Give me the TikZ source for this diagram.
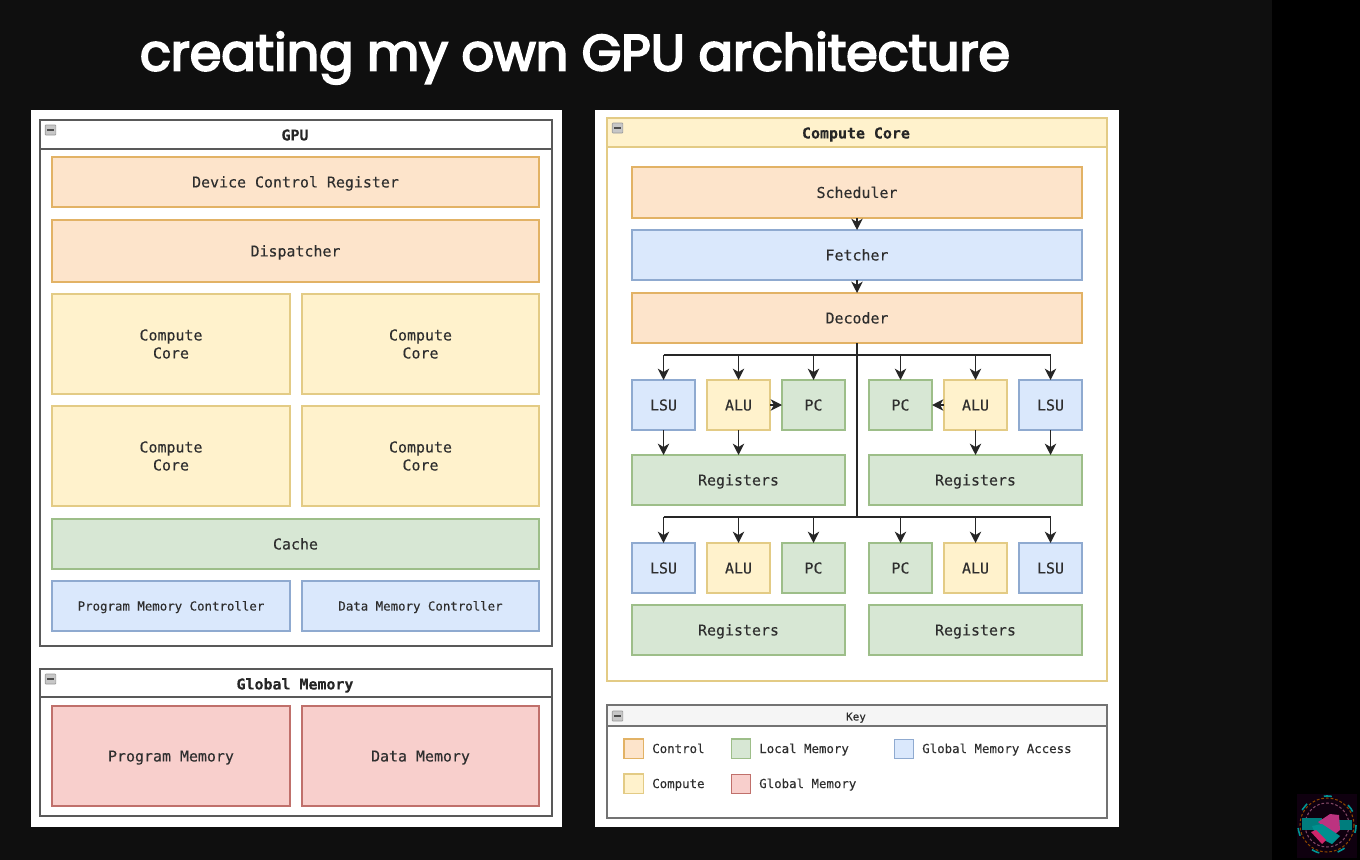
\documentclass[tikz,border=0pt]{standalone}
\usepackage{fontspec}
\setmainfont[FakeBold=0.25]{DejaVu Sans Mono}
\newfontfamily\titlefont[FakeBold=4]{Poppins}
\usetikzlibrary{arrows.meta}
\definecolor{slide}{HTML}{0F0F0F}
\definecolor{ink}{HTML}{2E2E2E}
\definecolor{ctlF}{HTML}{FDE4CB}\definecolor{ctlD}{HTML}{E2B265}
\definecolor{cmpF}{HTML}{FFF2CC}\definecolor{cmpD}{HTML}{E3CB85}
\definecolor{locF}{HTML}{D7E7D4}\definecolor{locD}{HTML}{9DBE89}
\definecolor{gloF}{HTML}{DAE8FC}\definecolor{gloD}{HTML}{8FAAD0}
\definecolor{memF}{HTML}{F8CFCC}\definecolor{memD}{HTML}{C0706B}
% keeps the capitals of every line group vertically centred in its box
\newcommand{\capcentre}[1]{\rule{0pt}{1.07em}#1\rule[-.34em]{0pt}{.34em}}
\tikzset{
  x=0.75pt,y=-0.75pt,
  base/.style={draw,line width=0.95pt,inner sep=0pt,outer sep=0pt,anchor=north west,align=center,text=ink,font=\fontsize{11.2pt}{13.5pt}\selectfont},
  ctl/.style={base,fill=ctlF,draw=ctlD},
  cmp/.style={base,fill=cmpF,draw=cmpD},
  loc/.style={base,fill=locF,draw=locD},
  glo/.style={base,fill=gloF,draw=gloD},
  mem/.style={base,fill=memF,draw=memD},
  panel/.style={base,fill=white,draw=none},
  lane/.style={base,fill=white,draw=black!65},
  smalltext/.style={font=\fontsize{9.3pt}{11pt}\selectfont},
  heading/.style={text=black!85,anchor=center,inner sep=0pt,font=\bfseries\fontsize{11.2pt}{13pt}\selectfont},
  keylabel/.style={anchor=west,text=ink,inner sep=0pt,font=\fontsize{9.3pt}{11pt}\selectfont},
  swatch/.style={line width=1pt,inner sep=0pt,outer sep=0pt,minimum width=14.5pt,minimum height=14.5pt},
  wire/.style={draw=black!85,line width=1.1pt},
  arr/.style={wire,-{Stealth[length=8.5pt,width=8.5pt,inset=2.5pt]}},
  logoring/.style={line width=0.8pt,dash pattern=on 2pt off 1.5pt},
}
% \bx{style}{name}{x1}{y1}{x2}{y2}{text}: box given by its pixel corners
\newcommand{\bx}[7]{%
  \pgfmathsetmacro{\bw}{(#5-#3)*0.75}\pgfmathsetmacro{\bh}{(#6-#4)*0.75}%
  \node[#1,minimum width=\bw pt,minimum height=\bh pt] (#2) at (#3,#4) {\capcentre{#7}};}
% \collapse{name}{x}{y}: little minus button in a lane header
\newcommand{\collapse}[3]{%
  \node[draw=black!40,fill=black!22,line width=0.5pt,inner sep=0pt,minimum width=8pt,minimum height=7.5pt,rounded corners=0.6pt] (#1) at (#2,#3) {};
  \draw[black!70,line width=0.9pt] ([xshift=-2.5pt]#1.center) -- ([xshift=2.5pt]#1.center);}
\begin{document}
\begin{tikzpicture}
\fill[slide] (0,0) rectangle (1360,860);
\fill[black] (1272,0) rectangle (1360,860);
\useasboundingbox (0,0) rectangle (1360,860);

% slide title
\node[text=white,anchor=center,inner sep=0pt,font=\titlefont\fontsize{38.1pt}{42pt}\selectfont] (title) at (575,58) {creating my own GPU architecture};

% white sheets
\bx{panel}{leftsheet}{31}{110}{562}{827}{}
\bx{panel}{rightsheet}{595}{110}{1119}{827}{}

% GPU lane
\bx{lane}{gpu}{40}{120}{552}{646}{}
\draw[black!65,line width=0.95pt] (40,149) -- (552,149);
\node[heading] (gputitle) at (295,135) {\capcentre{GPU}};
\collapse{gpubtn}{50.5}{130}
\bx{ctl}{dcr}{52}{157}{539}{207}{Device Control Register}
\bx{ctl}{disp}{52}{220}{539}{282}{Dispatcher}
\bx{cmp}{cc1}{52}{294}{290}{394}{Compute\\Core}
\bx{cmp}{cc2}{302}{294}{539}{394}{Compute\\Core}
\bx{cmp}{cc3}{52}{406}{290}{506}{Compute\\Core}
\bx{cmp}{cc4}{302}{406}{539}{506}{Compute\\Core}
\bx{loc}{cache}{52}{519}{539}{569}{Cache}
\bx{glo,smalltext}{pmc}{52}{581}{290}{631}{Program Memory Controller}
\bx{glo,smalltext}{dmc}{302}{581}{539}{631}{Data Memory Controller}

% global memory lane
\bx{lane}{gmem}{40}{669}{552}{816}{}
\draw[black!65,line width=0.95pt] (40,697) -- (552,697);
\node[heading] (gmemtitle) at (295,684) {\capcentre{Global Memory}};
\collapse{gmembtn}{50.5}{679}
\bx{mem}{pmem}{52}{706}{290}{806}{Program Memory}
\bx{mem}{dmem}{302}{706}{539}{806}{Data Memory}

% compute core lane
\bx{base,fill=white,draw=cmpD}{core}{607}{118}{1107}{681}{}
\fill[cmpF,draw=cmpD,line width=0.95pt] (607,118) rectangle (1107,147);
\node[heading] (coretitle) at (856,133) {\capcentre{Compute Core}};
\collapse{corebtn}{617.5}{128}
\bx{ctl}{sched}{632}{167}{1082}{218}{Scheduler}
\bx{glo}{fetch}{632}{230}{1082}{280}{Fetcher}
\bx{ctl}{dec}{632}{293}{1082}{343}{Decoder}

\bx{glo}{lsua}{632}{380}{695}{430}{LSU}
\bx{cmp}{alua}{707}{380}{770}{430}{ALU}
\bx{loc}{pca}{782}{380}{845}{430}{PC}
\bx{loc}{pcb}{869}{380}{932}{430}{PC}
\bx{cmp}{alub}{944}{380}{1007}{430}{ALU}
\bx{glo}{lsub}{1019}{380}{1082}{430}{LSU}
\bx{loc}{rega}{632}{455}{845}{505}{Registers}
\bx{loc}{regb}{869}{455}{1082}{505}{Registers}

\bx{glo}{lsuc}{632}{543}{695}{593}{LSU}
\bx{cmp}{aluc}{707}{543}{770}{593}{ALU}
\bx{loc}{pcc}{782}{543}{845}{593}{PC}
\bx{loc}{pcd}{869}{543}{932}{593}{PC}
\bx{cmp}{alud}{944}{543}{1007}{593}{ALU}
\bx{glo}{lsud}{1019}{543}{1082}{593}{LSU}
\bx{loc}{regc}{632}{605}{845}{655}{Registers}
\bx{loc}{regd}{869}{605}{1082}{655}{Registers}

% control flow through the core
\draw[arr] (sched.south) -- (fetch.north);
\draw[arr] (fetch.south) -- (dec.north);
\coordinate (busa) at (857,355);
\coordinate (busb) at (857,517);
\draw[wire] (dec.south) -- (busb);
\draw[wire] (busa -| lsua) -- (busa -| lsub);
\draw[wire] (busb -| lsuc) -- (busb -| lsud);
\foreach \n in {lsua,alua,pca,pcb,alub,lsub}
  \draw[arr] (busa -| \n) -- (\n.north);
\foreach \n in {lsuc,aluc,pcc,pcd,alud,lsud}
  \draw[arr] (busb -| \n) -- (\n.north);
\draw[arr] (alua.east) -- (pca.west);
\draw[arr] (alub.west) -- (pcb.east);
\draw[arr] (lsua.south) -- (lsua.south |- rega.north);
\draw[arr] (alua.south) -- (alua.south |- rega.north);
\draw[arr] (lsub.south) -- (lsub.south |- regb.north);
\draw[arr] (alub.south) -- (alub.south |- regb.north);

% key
\bx{lane}{key}{607}{705}{1107}{818}{}
\fill[black!4,draw=black!55,line width=0.9pt] (607,705) rectangle (1107,726);
\draw[black!55,line width=0.9pt] (607,705) rectangle (1107,818);
\node[text=ink,anchor=center,inner sep=0pt,font=\fontsize{8.2pt}{10pt}\selectfont] (keytitle) at (856,716.5) {\capcentre{Key}};
\collapse{keybtn}{617.5}{716}
\node[swatch,fill=ctlF,draw=ctlD] (s1) at (633.5,748.5) {};
\node[swatch,fill=locF,draw=locD] (s2) at (741,748.5) {};
\node[swatch,fill=gloF,draw=gloD] (s3) at (904,749) {};
\node[swatch,fill=cmpF,draw=cmpD] (s4) at (633.5,783.5) {};
\node[swatch,fill=memF,draw=memD] (s5) at (741,784) {};
\node[keylabel] (l1) at (652,748.5) {\capcentre{Control}};
\node[keylabel] (l2) at (759,748.5) {\capcentre{Local Memory}};
\node[keylabel] (l3) at (922,748.5) {\capcentre{Global Memory Access}};
\node[keylabel] (l4) at (652,783.5) {\capcentre{Compute}};
\node[keylabel] (l5) at (759,783.5) {\capcentre{Global Memory}};

% handshake badge in the corner
\fill[violet!12!black] (1297,794) rectangle (1357,858);
\draw[orange!55!black,logoring] (1327,825) circle (27);
\draw[magenta!45!black,logoring] (1327,825) circle (22);
\draw[teal!55!cyan!80!black,line width=1.2pt,dash pattern=on 6pt off 14pt] (1327,825) circle (29);
\fill[teal!60!cyan!70!black] (1302,818) rectangle (1322,830);
\fill[teal!60!cyan!70!black] (1338,820) rectangle (1352,830);
\fill[magenta!75!violet!85!black] (1318,822) -- (1330,814) -- (1339,815) -- (1340,830) -- (1334,835) -- cycle;
\fill[teal!60!cyan!80!black] (1312,826) -- (1322,824) -- (1340,836) -- (1332,844) -- (1316,836) -- cycle;
\fill[magenta!70!red!85!black] (1311,832) -- (1316,830) -- (1326,840) -- (1322,844) -- cycle;
\end{tikzpicture}
\end{document}
